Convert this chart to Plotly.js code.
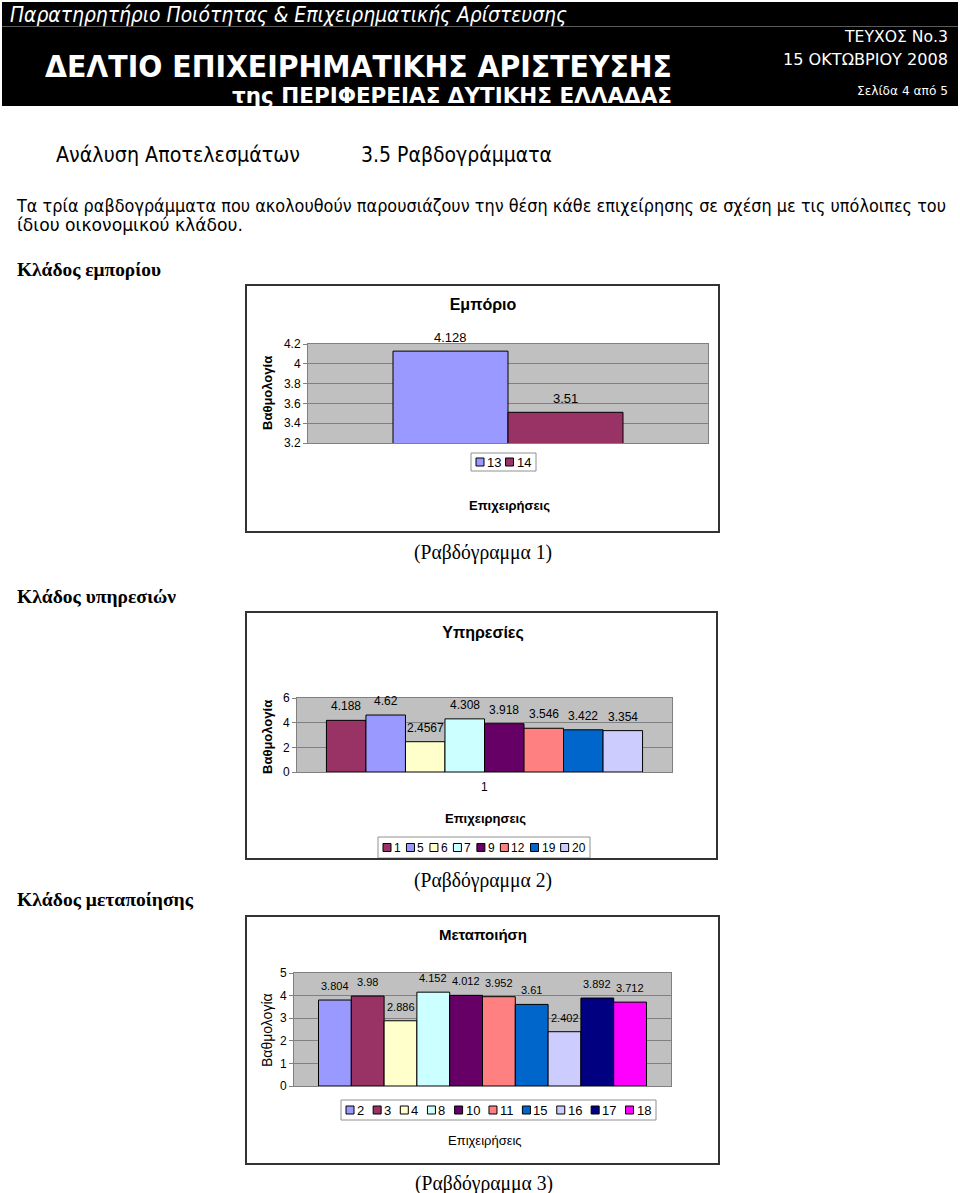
<!DOCTYPE html>
<html><head><meta charset="utf-8">
<script src="https://cdn.plot.ly/plotly-3.0.1.min.js"></script>
<style>
body{margin:0;background:#fff;}
#page{position:relative;width:960px;height:1193px;overflow:hidden;background:#fff;}
.t{position:absolute;white-space:nowrap;line-height:1;transform-origin:0 50%;}
.frame{position:absolute;border:2px solid #333;box-sizing:border-box;pointer-events:none;z-index:5;}
.chart{position:absolute;}
</style></head><body>
<div id="page">
  <div style="position:absolute;left:2px;top:2px;width:956px;height:104px;background:#000;"></div>
  <div style="position:absolute;left:2px;top:26px;width:956px;height:1px;background:#5a5a5a;"></div>
  <div id="c1" class="chart"></div>
  <div id="c2" class="chart"></div>
  <div id="c3" class="chart"></div>
</div>
<script>
// ---------------- data ----------------
const tradeFirms = ['13', '14'];
const tradeScores = [4.128, 3.51];
const tradeColors = ['#9999FF', '#993366'];

const serviceFirms = ['1', '5', '6', '7', '9', '12', '19', '20'];
const serviceScores = [4.188, 4.62, 2.4567, 4.308, 3.918, 3.546, 3.422, 3.354];
const serviceColors = ['#993366', '#9999FF', '#FFFFCC', '#CCFFFF', '#660066', '#FF8080', '#0066CC', '#CCCCFF'];

const mfgFirms = ['2', '3', '4', '8', '10', '11', '15', '16', '17', '18'];
const mfgScores = [3.804, 3.98, 2.886, 4.152, 4.012, 3.952, 3.61, 2.402, 3.892, 3.712];
const mfgColors = ['#9999FF', '#993366', '#FFFFCC', '#CCFFFF', '#660066', '#FF8080', '#0066CC', '#CCCCFF', '#000080', '#FF00FF'];

// ---------------- page text ----------------
const page = document.getElementById('page');
function txt(s, x1, x2, cy, o) {
  const d = document.createElement('div');
  d.className = 't';
  d.textContent = s;
  d.style.fontFamily = o.family || "'DejaVu Sans', sans-serif";
  d.style.fontSize = o.size + 'px';
  d.style.fontWeight = o.bold ? 'bold' : 'normal';
  d.style.fontStyle = o.italic ? 'italic' : 'normal';
  d.style.color = o.color || '#000';
  d.style.left = x1 + 'px';
  d.style.top = (cy - o.size * 0.52) + 'px';
  d.style.zIndex = 6;
  page.appendChild(d);
  const w = d.getBoundingClientRect().width;
  d.style.transform = 'scaleX(' + ((x2 - x1) / w) + ')';
}
txt('Παρατηρητήριο Ποιότητας & Επιχειρηματικής Αρίστευσης', 10, 567, 15, {size: 22, italic: true, color: '#fff'});
txt('ΤΕΥΧΟΣ Νο.3', 845, 948, 37, {size: 16, color: '#fff'});
txt('ΔΕΛΤΙΟ ΕΠΙΧΕΙΡΗΜΑΤΙΚΗΣ ΑΡΙΣΤΕΥΣΗΣ', 45, 672, 68, {size: 30, bold: true, color: '#fff'});
txt('15 ΟΚΤΩΒΡΙΟΥ 2008', 783, 948, 60, {size: 16, color: '#fff'});
txt('της ΠΕΡΙΦΕΡΕΙΑΣ ΔΥΤΙΚΗΣ ΕΛΛΑΔΑΣ', 232, 672, 96, {size: 22, bold: true, color: '#fff'});
txt('Σελίδα 4 από 5', 857, 948, 91, {size: 13, color: '#fff'});

txt('Ανάλυση Αποτελεσμάτων', 56, 300, 155, {size: 22});
txt('3.5 Ραβδογράμματα', 361, 552, 155, {size: 22});
txt('Τα τρία ραβδογράμματα που ακολουθούν παρουσιάζουν την θέση κάθε επιχείρησης σε σχέση με τις υπόλοιπες του', 17, 946, 207, {size: 17});
txt('ίδιου οικονομικού κλάδου.', 17, 243, 226, {size: 17});

const SERIF = "'Liberation Serif', 'Times New Roman', serif";
txt('Κλάδος εμπορίου', 17, 161, 270, {size: 19, bold: true, family: SERIF});
txt('(Ραβδόγραμμα 1)', 414, 552, 552, {size: 20, family: SERIF});
txt('Κλάδος υπηρεσιών', 17, 176, 597, {size: 19, bold: true, family: SERIF});
txt('(Ραβδόγραμμα 2)', 414, 552, 880, {size: 20, family: SERIF});
txt('Κλάδος μεταποίησης', 17, 193, 900, {size: 19, bold: true, family: SERIF});
txt('(Ραβδόγραμμα 3)', 415, 553, 1183, {size: 20, family: SERIF});

// ---------------- charts ----------------
const ARIAL = "Arial, 'Liberation Sans', sans-serif";
const canvas = document.createElement('canvas');
const ctx = canvas.getContext('2d');

function makeChart(id, c) {
  const [L, R, T, B] = c.plot;
  const [bx1, by1, bx2, by2] = c.box;
  const px = v => (v - L) / (R - L);
  const py = v => (B - v) / (B - T);
  const el = document.getElementById(id);
  el.style.left = bx1 + 'px'; el.style.top = by1 + 'px';
  const fr = document.createElement('div');
  fr.className = 'frame';
  fr.style.left = bx1 + 'px'; fr.style.top = by1 + 'px';
  fr.style.width = (bx2 - bx1) + 'px'; fr.style.height = (by2 - by1) + 'px';
  page.appendChild(fr);

  const n = c.names.length;
  const traces = c.names.map((nm, i) => ({
    type: 'bar', name: nm, x: [0], y: [c.values[i]],
    marker: {color: c.colors[i], line: {color: '#000', width: 1}},
    hoverinfo: 'skip'
  }));

  const shapes = [], annotations = [];
  // value labels placed on the data scale above each bar of the group
  const gw = 1 - c.bargap, bw = gw / n;
  c.values.forEach((v, i) => {
    annotations.push({xref: 'x', yref: 'y', x: -gw / 2 + (i + 0.5) * bw, y: v, xanchor: 'center', yanchor: 'middle',
      yshift: 14, text: String(v), showarrow: false, font: {family: ARIAL, size: c.labelSize, color: '#000'}});
  });
  // legend built from the series names/colours
  const [lx1, ly1, lx2, ly2] = c.legend;
  shapes.push({type: 'rect', xref: 'paper', yref: 'paper', x0: px(lx1), x1: px(lx2), y0: py(ly2), y1: py(ly1),
    fillcolor: '#fff', line: {color: '#909090', width: 1}});
  ctx.font = c.legendSize + 'px Arial';
  const sq = 8, g1 = 3, pad = 5;
  const tw = c.names.map(nm => ctx.measureText(nm).width);
  const natural = tw.reduce((a, b) => a + b, 0) + n * (sq + g1);
  const gap = (lx2 - lx1 - 2 * pad - natural) / Math.max(1, n - 1);
  let x = lx1 + pad;
  const lcy = (ly1 + ly2) / 2;
  c.names.forEach((nm, i) => {
    shapes.push({type: 'rect', xref: 'paper', yref: 'paper', x0: px(x), x1: px(x + sq), y0: py(lcy + sq / 2), y1: py(lcy - sq / 2),
      fillcolor: c.colors[i], line: {color: '#000', width: 1}});
    annotations.push({xref: 'paper', yref: 'paper', x: px(x + sq + g1 - 2), y: py(lcy), xanchor: 'left', yanchor: 'middle',
      text: nm, showarrow: false, font: {family: ARIAL, size: c.legendSize, color: '#000'}});
    x += sq + g1 + tw[i] + gap;
  });
  // axis titles
  annotations.push({xref: 'paper', yref: 'paper', x: px(c.xTitle[1]), y: py(c.xTitle[2]), xanchor: 'center', yanchor: 'middle',
    text: c.xTitle[0], showarrow: false, font: {family: ARIAL, size: c.xTitle[3], color: '#000', weight: c.xTitle[4] ? 'bold' : 'normal'}});
  annotations.push({xref: 'paper', yref: 'paper', x: px(c.yTitle[1]), y: py(c.yTitle[2]), xanchor: 'center', yanchor: 'middle',
    textangle: -90, text: c.yTitle[0], showarrow: false,
    font: {family: ARIAL, size: c.yTitle[3], color: '#000', weight: c.yTitle[4] ? 'bold' : 'normal'}});
  if (c.catLabel) {
    annotations.push({xref: 'x', yref: 'paper', x: 0, y: py(c.catLabel[1]), xanchor: 'center', yanchor: 'middle',
      text: c.catLabel[0], showarrow: false, font: {family: ARIAL, size: 12, color: '#000'}});
  }

  const h = by2 - by1;
  const layout = {
    width: bx2 - bx1, height: h,
    margin: {l: L - bx1, r: bx2 - R, t: T - by1, b: by2 - B, pad: 0},
    paper_bgcolor: 'rgba(0,0,0,0)', plot_bgcolor: '#C0C0C0',
    barmode: 'group', bargap: c.bargap, bargroupgap: 0,
    showlegend: false,
    font: {family: ARIAL, size: 12, color: '#000'},
    title: {text: c.title[0], x: (c.title[1] - bx1) / (bx2 - bx1), xanchor: 'center', xref: 'container',
      y: 1 - (c.title[2] - by1) / h, yanchor: 'middle', yref: 'container',
      font: {family: ARIAL, size: c.title[3], color: '#000', weight: 'bold'}},
    xaxis: {type: 'linear', range: [-0.5, 0.5], showgrid: false, showline: true, linecolor: '#808080', mirror: true, ticks: '',
      showticklabels: false, zeroline: false, fixedrange: true},
    yaxis: {range: c.yrange, tick0: 0, dtick: c.dtick, showgrid: true, gridcolor: '#808080', gridwidth: 1,
      showline: true, linecolor: '#808080', mirror: true, ticks: 'outside', ticklen: 4, tickcolor: '#808080',
      zeroline: false, tickfont: {family: ARIAL, size: c.tickSize}, fixedrange: true},
    shapes, annotations
  };
  Plotly.newPlot(el, traces, layout, {staticPlot: true, displayModeBar: false});
}

makeChart('c1', {
  box: [245, 284, 720, 533], plot: [308, 708, 344, 443],
  names: tradeFirms, values: tradeScores, colors: tradeColors,
  bargap: 0.425, yrange: [3.2, 4.2], dtick: 0.2, tickSize: 12, labelSize: 13,
  title: ['Εμπόριο', 483, 304, 16],
  xTitle: ['Επιχειρήσεις', 509, 505, 13, true],
  yTitle: ['Βαθμολογία', 267, 393, 13, true],
  legend: [471, 453, 536, 471], legendSize: 13
});
makeChart('c2', {
  box: [245, 611, 718, 860], plot: [297, 672, 698, 772],
  names: serviceFirms, values: serviceScores, colors: serviceColors,
  bargap: 0.157, yrange: [0, 6], dtick: 2, tickSize: 12, labelSize: 12,
  catLabel: ['1', 787],
  title: ['Υπηρεσίες', 483, 632, 16],
  xTitle: ['Επιχειρησεις', 485, 818, 13, true],
  yTitle: ['Βαθμολογία', 267, 737, 13, true],
  legend: [378, 837, 590, 858], legendSize: 12
});
makeChart('c3', {
  box: [245, 915, 720, 1165], plot: [294, 671, 973, 1086],
  names: mfgFirms, values: mfgScores, colors: mfgColors,
  bargap: 0.13, yrange: [0, 5], dtick: 1, tickSize: 12, labelSize: 11,
  title: ['Μεταποιήση', 483, 935, 15],
  xTitle: ['Επιχειρήσεις', 485, 1140, 13, false],
  yTitle: ['Βαθμολογία', 267, 1030, 14, false],
  legend: [341, 1100, 656, 1120], legendSize: 13
});
</script>
</body></html>
